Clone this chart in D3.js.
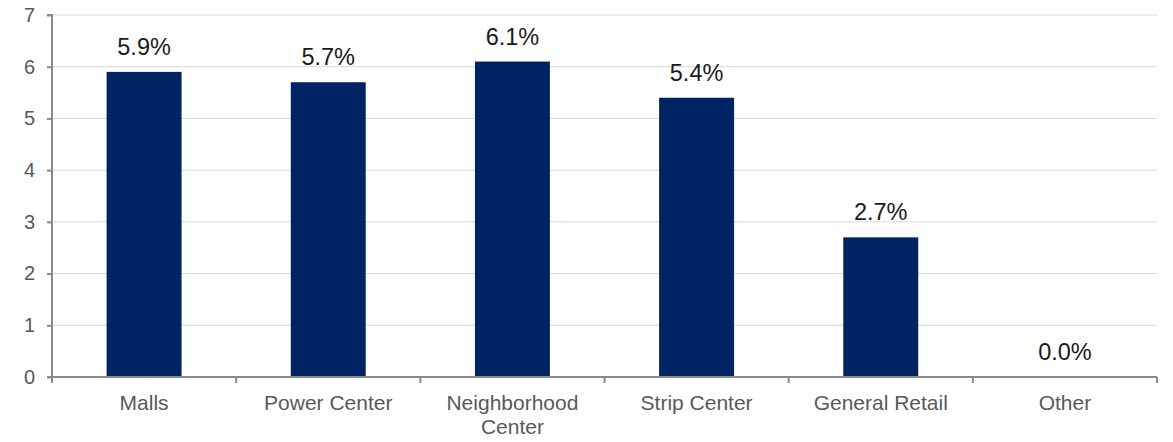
<!DOCTYPE html>
<html><head><meta charset="utf-8">
<script src="https://cdn.jsdelivr.net/npm/d3@7"></script>
<style>body{margin:0;background:#fff}svg{display:block}text{font-family:"Liberation Sans",Arial,sans-serif}</style>
</head><body>
<svg id="chart" width="1173" height="442"></svg>
<script>
const categories = ["Malls", "Power Center", "Neighborhood Center", "Strip Center", "General Retail", "Other"];
const values = [5.9, 5.7, 6.1, 5.4, 2.7, 0.0];
const yTicks = [0, 1, 2, 3, 4, 5, 6, 7];

const svg = d3.select("#chart");
const pLeft = 52, pRight = 1157, pTop = 15, pBottom = 377;
const x = d3.scaleBand().domain(categories).range([pLeft, pRight]).padding(0);
const y = d3.scaleLinear().domain([0, 7]).range([pBottom, pTop]);
const axisColor = "#8a8a8a";

// gridlines
svg.append("g").selectAll("line").data(yTicks.filter(d => d > 0)).join("line")
  .attr("x1", pLeft).attr("x2", pRight)
  .attr("y1", d => y(d)).attr("y2", d => y(d))
  .attr("stroke", "#d9d9d9").attr("stroke-width", 1);

// bars
const barW = x.bandwidth() * 0.407;
svg.append("g").selectAll("rect").data(values).join("rect")
  .attr("x", (d, i) => x(categories[i]) + (x.bandwidth() - barW) / 2)
  .attr("width", barW)
  .attr("y", d => y(d))
  .attr("height", d => y(0) - y(d))
  .attr("fill", "#002463");

// value labels
svg.append("g").selectAll("text").data(values).join("text")
  .attr("x", (d, i) => x(categories[i]) + x.bandwidth() / 2)
  .attr("y", d => y(d) - 17)
  .attr("text-anchor", "middle")
  .attr("font-size", 23.5)
  .attr("fill", "#1a1a1a")
  .text(d => d.toFixed(1) + "%");

// y axis
const ya = svg.append("g").attr("transform", `translate(${pLeft},0)`)
  .call(d3.axisLeft(y).tickValues(yTicks).tickFormat(d3.format("d")).tickSize(5).tickPadding(12));
ya.select(".domain").attr("stroke", axisColor).attr("stroke-width", 2).attr("d", `M-5,${pTop}H0V${pBottom}H-5`);
ya.selectAll(".tick line").attr("stroke", axisColor).attr("stroke-width", 2);
ya.selectAll(".tick text").attr("font-size", 20).attr("fill", "#595959").attr("font-family", "Liberation Sans, Arial, sans-serif");

// x axis
const xa = svg.append("g").attr("transform", `translate(0,${pBottom})`);
xa.append("line").attr("x1", pLeft).attr("x2", pRight).attr("y1", 0).attr("y2", 0)
  .attr("stroke", axisColor).attr("stroke-width", 2);
const bounds = categories.map(c => x(c)).concat([pRight]);
xa.selectAll("line.tk").data(bounds).join("line").attr("class", "tk")
  .attr("x1", d => d).attr("x2", d => d).attr("y1", 0).attr("y2", 6)
  .attr("stroke", axisColor).attr("stroke-width", 2);
const labels = xa.selectAll("text.cat").data(categories).join("text").attr("class", "cat")
  .attr("text-anchor", "middle")
  .attr("font-size", 21).attr("fill", "#595959");
labels.each(function(c) {
  const t = d3.select(this);
  const cx = x(c) + x.bandwidth() / 2;
  const words = c.split(" ");
  let lines = [words[0]];
  for (let i = 1; i < words.length; i++) {
    const trial = lines[lines.length - 1] + " " + words[i];
    t.text(trial);
    if (this.getComputedTextLength() > 165) lines.push(words[i]);
    else lines[lines.length - 1] = trial;
  }
  t.text(null);
  lines.forEach((l, i) => t.append("tspan").attr("x", cx).attr("y", 33 + i * 24).text(l));
});
</script>
</body></html>
